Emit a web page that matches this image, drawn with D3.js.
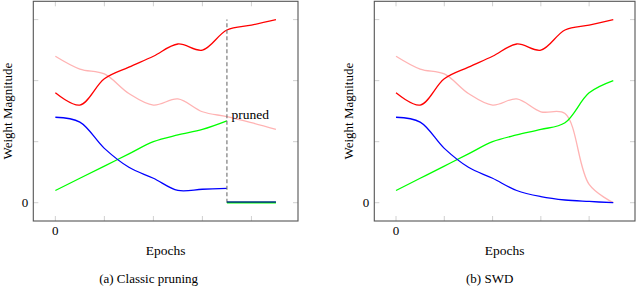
<!DOCTYPE html>
<html><head><meta charset="utf-8">
<script src="https://cdn.jsdelivr.net/npm/d3@7"></script>
<style>body{margin:0;background:#fff}svg{display:block}</style>
</head><body><svg id="c" width="640" height="287"></svg>
<script>
const xs = [0, 0.5, 1, 1.5, 2, 2.5, 3, 3.5, 4, 4.5];
const xsPre = [0, 0.5, 1, 1.5, 2, 2.5, 3, 3.5];
const xsPost = [3.5, 4.5];
const redA = [1.8, 1.6, 2.03, 2.22, 2.4, 2.6, 2.5, 2.83, 2.91, 3.0];
const pinkA = [2.4, 2.19, 2.11, 1.79, 1.6, 1.7, 1.49, 1.41, 1.31, 1.2];
const greenA = [0.2, 0.4, 0.6, 0.8, 1.0, 1.11, 1.2, 1.34];
const blueA = [1.4, 1.32, 0.89, 0.58, 0.4, 0.2, 0.22, 0.235];
const greenPruned = [0, 0];
const bluePruned = [0.012, 0.012];
const redB = [1.8, 1.6, 2.03, 2.22, 2.4, 2.6, 2.5, 2.83, 2.91, 3.0];
const pinkB = [2.4, 2.19, 2.11, 1.79, 1.6, 1.7, 1.49, 1.46, 0.3, 0];
const greenB = [0.2, 0.4, 0.6, 0.8, 1.0, 1.11, 1.2, 1.31, 1.8, 2.0];
const blueB = [1.4, 1.32, 0.89, 0.58, 0.4, 0.2, 0.1, 0.044, 0.02, 0];
const xTicks = [0, 1, 2, 3, 4];
const yTicks = [0, 1, 2, 3];
const xTickLabels = ["0", "", "", "", ""];
const yTickLabels = ["0", "", "", ""];
const pruneX = 3.5, pruneTop = 3.0;
const captions = ["(a) Classic pruning", "(b) SWD"];

const svg = d3.select("#c");
const FONT = "Liberation Serif";
const colors = {red:"#ff0000", pink:"#ffb3b3", green:"#00ff00", blue:"#0000ff"};

function txt(sel) { return sel.append("text").attr("font-family", FONT).attr("fill", "#000"); }

function panel(left, right, caption, series, prune) {
  const g = svg.append("g");
  const x = d3.scaleLinear().domain([-0.45, 4.95]).range([left, right]);
  const y = d3.scaleLinear().domain([-0.3, 3.3]).range([221, 1.3]);
  const tk = g.append("g").attr("stroke", "#c4c4c4").attr("stroke-width", 0.8);
  xTicks.forEach(t => {
    tk.append("line").attr("x1", x(t)).attr("x2", x(t)).attr("y1", y.range()[0]).attr("y2", y.range()[0] - 5);
    tk.append("line").attr("x1", x(t)).attr("x2", x(t)).attr("y1", y.range()[1]).attr("y2", y.range()[1] + 5);
  });
  yTicks.forEach(t => {
    tk.append("line").attr("y1", y(t)).attr("y2", y(t)).attr("x1", left).attr("x2", left + 5);
    tk.append("line").attr("y1", y(t)).attr("y2", y(t)).attr("x1", right).attr("x2", right - 5);
  });
  const line = d3.line().x(d => x(d[0])).y(d => y(d[1])).curve(d3.curveCatmullRom.alpha(0.5));
  series.forEach(s => {
    g.append("path").datum(s.xs.map((v, i) => [v, s.ys[i]]))
      .attr("d", line).attr("fill", "none").attr("stroke", s.color).attr("stroke-width", s.w || 1.3);
  });
  if (prune) {
    g.append("line").attr("x1", x(pruneX)).attr("x2", x(pruneX)).attr("y1", y(0)).attr("y2", y(pruneTop))
      .attr("stroke", "#707070").attr("stroke-width", 1.1).attr("stroke-dasharray", "4,2.5");
    txt(svg).attr("x", x(pruneX) + 4.5).attr("y", y(1.45) + 4.5).attr("font-size", 13.5).text("pruned");
    [{ys: greenPruned, c: colors.green}, {ys: bluePruned, c: "#00307f"}].forEach(s => {
      g.append("path").datum(xsPost.map((v, i) => [v, s.ys[i]])).attr("d", line)
        .attr("fill", "none").attr("stroke", s.c).attr("stroke-width", 1.6);
    });
  }
  g.append("rect").attr("x", left).attr("y", y.range()[1]).attr("width", right - left)
    .attr("height", y.range()[0] - y.range()[1]).attr("fill", "none").attr("stroke", "#555").attr("stroke-width", 1.1);
  yTicks.forEach((t, i) => { if (yTickLabels[i]) txt(g).attr("x", left - 5).attr("y", y(t)).attr("dy", "0.35em").attr("text-anchor", "end").attr("font-size", 13).text(yTickLabels[i]); });
  xTicks.forEach((t, i) => { if (xTickLabels[i]) txt(g).attr("x", x(t)).attr("y", 234.5).attr("text-anchor", "middle").attr("font-size", 13).text(xTickLabels[i]); });
  const cx = (left + right) / 2;
  txt(g).attr("x", cx).attr("y", 255).attr("text-anchor", "middle").attr("font-size", 13.5).text("Epochs");
  txt(g).attr("transform", `translate(${left - 21},${(y.range()[0] + y.range()[1]) / 2}) rotate(-90)`)
    .attr("text-anchor", "middle").attr("font-size", 13).text("Weight Magnitude");
  txt(g).attr("x", cx - 17 + (caption === captions[1] ? 2 : 0)).attr("y", 283).attr("text-anchor", "middle").attr("font-size", 13).text(caption);
}

panel(33.3, 298, captions[0], [
  {xs: xs, ys: pinkA, color: colors.pink},
  {xs: xs, ys: redA, color: colors.red},
  {xs: xsPre, ys: greenA, color: colors.green},
  {xs: xsPre, ys: blueA, color: colors.blue}
], true);
panel(374.3, 635, captions[1], [
  {xs: xs, ys: pinkB, color: colors.pink},
  {xs: xs, ys: redB, color: colors.red},
  {xs: xs, ys: greenB, color: colors.green},
  {xs: xs, ys: blueB, color: colors.blue}
], false);
</script></body></html>
